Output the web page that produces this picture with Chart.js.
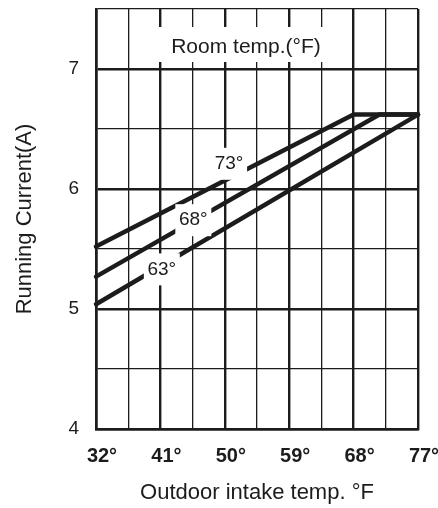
<!DOCTYPE html>
<html>
<head>
<meta charset="utf-8">
<script src="https://cdn.jsdelivr.net/npm/chart.js@4/dist/chart.umd.min.js"></script>
<style>
  body { margin: 0; background: #fff; }
  canvas { display: block; }
</style>
</head>
<body>
<canvas id="chart" width="438" height="508"></canvas>
<script>
// Outdoor intake temp (°F) and running current (A) for each room temp curve
const roomTemps = ['73°', '68°', '63°'];
const outdoor73 = [32, 68, 77];
const current73 = [5.52, 6.62, 6.62];
const outdoor68 = [32, 71.6, 77];
const current68 = [5.27, 6.62, 6.62];
const outdoor63 = [32, 77];
const current63 = [5.04, 6.62];

// where each curve label sits (°F, A)
const labelTemp = [50.6, 45.6, 41.2];
const labelCurrent = [6.21, 5.74, 5.33];

const xMin = 32, xMax = 77, xStep = 4.5;
const yMin = 4, yMax = 7.5, yStep = 0.5;

const ink = '#1c1c1c';
const font = "'Liberation Sans', Arial, sans-serif";

function pts(xs, ys) {
    return xs.map((x, i) => ({ x, y: ys[i] }));
}

const series = [pts(outdoor73, current73), pts(outdoor68, current68), pts(outdoor63, current63)];

// White box with "Room temp.(°F)" in the top row
const roomTitle = {
    id: 'roomTitle',
    beforeDatasetsDraw(chart) {
        const { ctx, chartArea: a } = chart;
        ctx.save();
        ctx.fillStyle = '#fff';
        ctx.fillRect(a.left + 55, a.top + 18, 178, 35);
        ctx.fillStyle = ink;
        ctx.font = '21px ' + font;
        ctx.textAlign = 'center';
        ctx.textBaseline = 'middle';
        ctx.fillText('Room temp.(°F)', a.left + 150, a.top + 38);
        ctx.restore();
    }
};

// Curve labels punched into the lines
const curveLabels = {
    id: 'curveLabels',
    afterDatasetsDraw(chart) {
        const { ctx, scales: { x, y } } = chart;
        ctx.save();
        ctx.font = '19px ' + font;
        ctx.textAlign = 'center';
        ctx.textBaseline = 'middle';
        roomTemps.forEach((t, i) => {
            const px = x.getPixelForValue(labelTemp[i]);
            const py = y.getPixelForValue(labelCurrent[i]);
            ctx.fillStyle = '#fff';
            ctx.fillRect(px - 18, py - 16, 36, 32);
            ctx.fillStyle = ink;
            ctx.fillText(t, px, py);
        });
        ctx.restore();
    }
};

new Chart(document.getElementById('chart'), {
    type: 'scatter',
    data: {
        datasets: series.map((d, i) => ({
            label: roomTemps[i],
            data: d,
            showLine: true,
            borderColor: ink,
            borderWidth: 4.5,
            borderCapStyle: 'round',
            pointRadius: 0,
            clip: false
        }))
    },
    options: {
        responsive: false,
        animation: false,
        layout: { padding: { top: 9, right: 20, left: 0, bottom: 0 } },
        plugins: { legend: { display: false }, tooltip: { enabled: false } },
        scales: {
            x: {
                type: 'linear',
                min: xMin, max: xMax,
                afterFit: s => { s.height = 79; s.paddingLeft = 0; s.paddingRight = 0; },
                ticks: {
                    stepSize: xStep,
                    autoSkip: false,
                    maxRotation: 0,
                    padding: 15,
                    labelOffset: 6,
                    color: ink,
                    font: { family: font, size: 20, weight: 'bold' },
                    callback: v => ((v - xMin) % 9 === 0 ? v + '°' : '')
                },
                grid: {
                    color: ink,
                    drawTicks: false,
                    lineWidth: c => ((c.tick && (c.tick.value - xMin) % 9 === 0) ? 2.4 : 1.3)
                },
                border: { color: ink, width: 2.6 },
                title: {
                    display: true,
                    text: 'Outdoor intake temp. °F',
                    color: ink,
                    font: { family: font, size: 22 },
                    padding: { top: 0, bottom: 2 }
                }
            },
            y: {
                min: yMin, max: yMax,
                afterFit: s => { s.width = 96; s.paddingTop = 0; s.paddingBottom = 0; },
                ticks: {
                    stepSize: yStep,
                    padding: 17,
                    color: ink,
                    font: { family: font, size: 19 },
                    callback: v => (Number.isInteger(v) && v < yMax ? String(v) : '')
                },
                grid: {
                    color: ink,
                    drawTicks: false,
                    lineWidth: c => ((c.tick && Number.isInteger(c.tick.value)) ? 2.4 : 1.3)
                },
                border: { color: ink, width: 2.6 },
                title: {
                    display: true,
                    text: 'Running Current(A)',
                    color: ink,
                    font: { family: font, size: 22 },
                    padding: { top: 12, bottom: 0 }
                }
            }
        }
    },
    plugins: [roomTitle, curveLabels]
});
</script>
</body>
</html>
